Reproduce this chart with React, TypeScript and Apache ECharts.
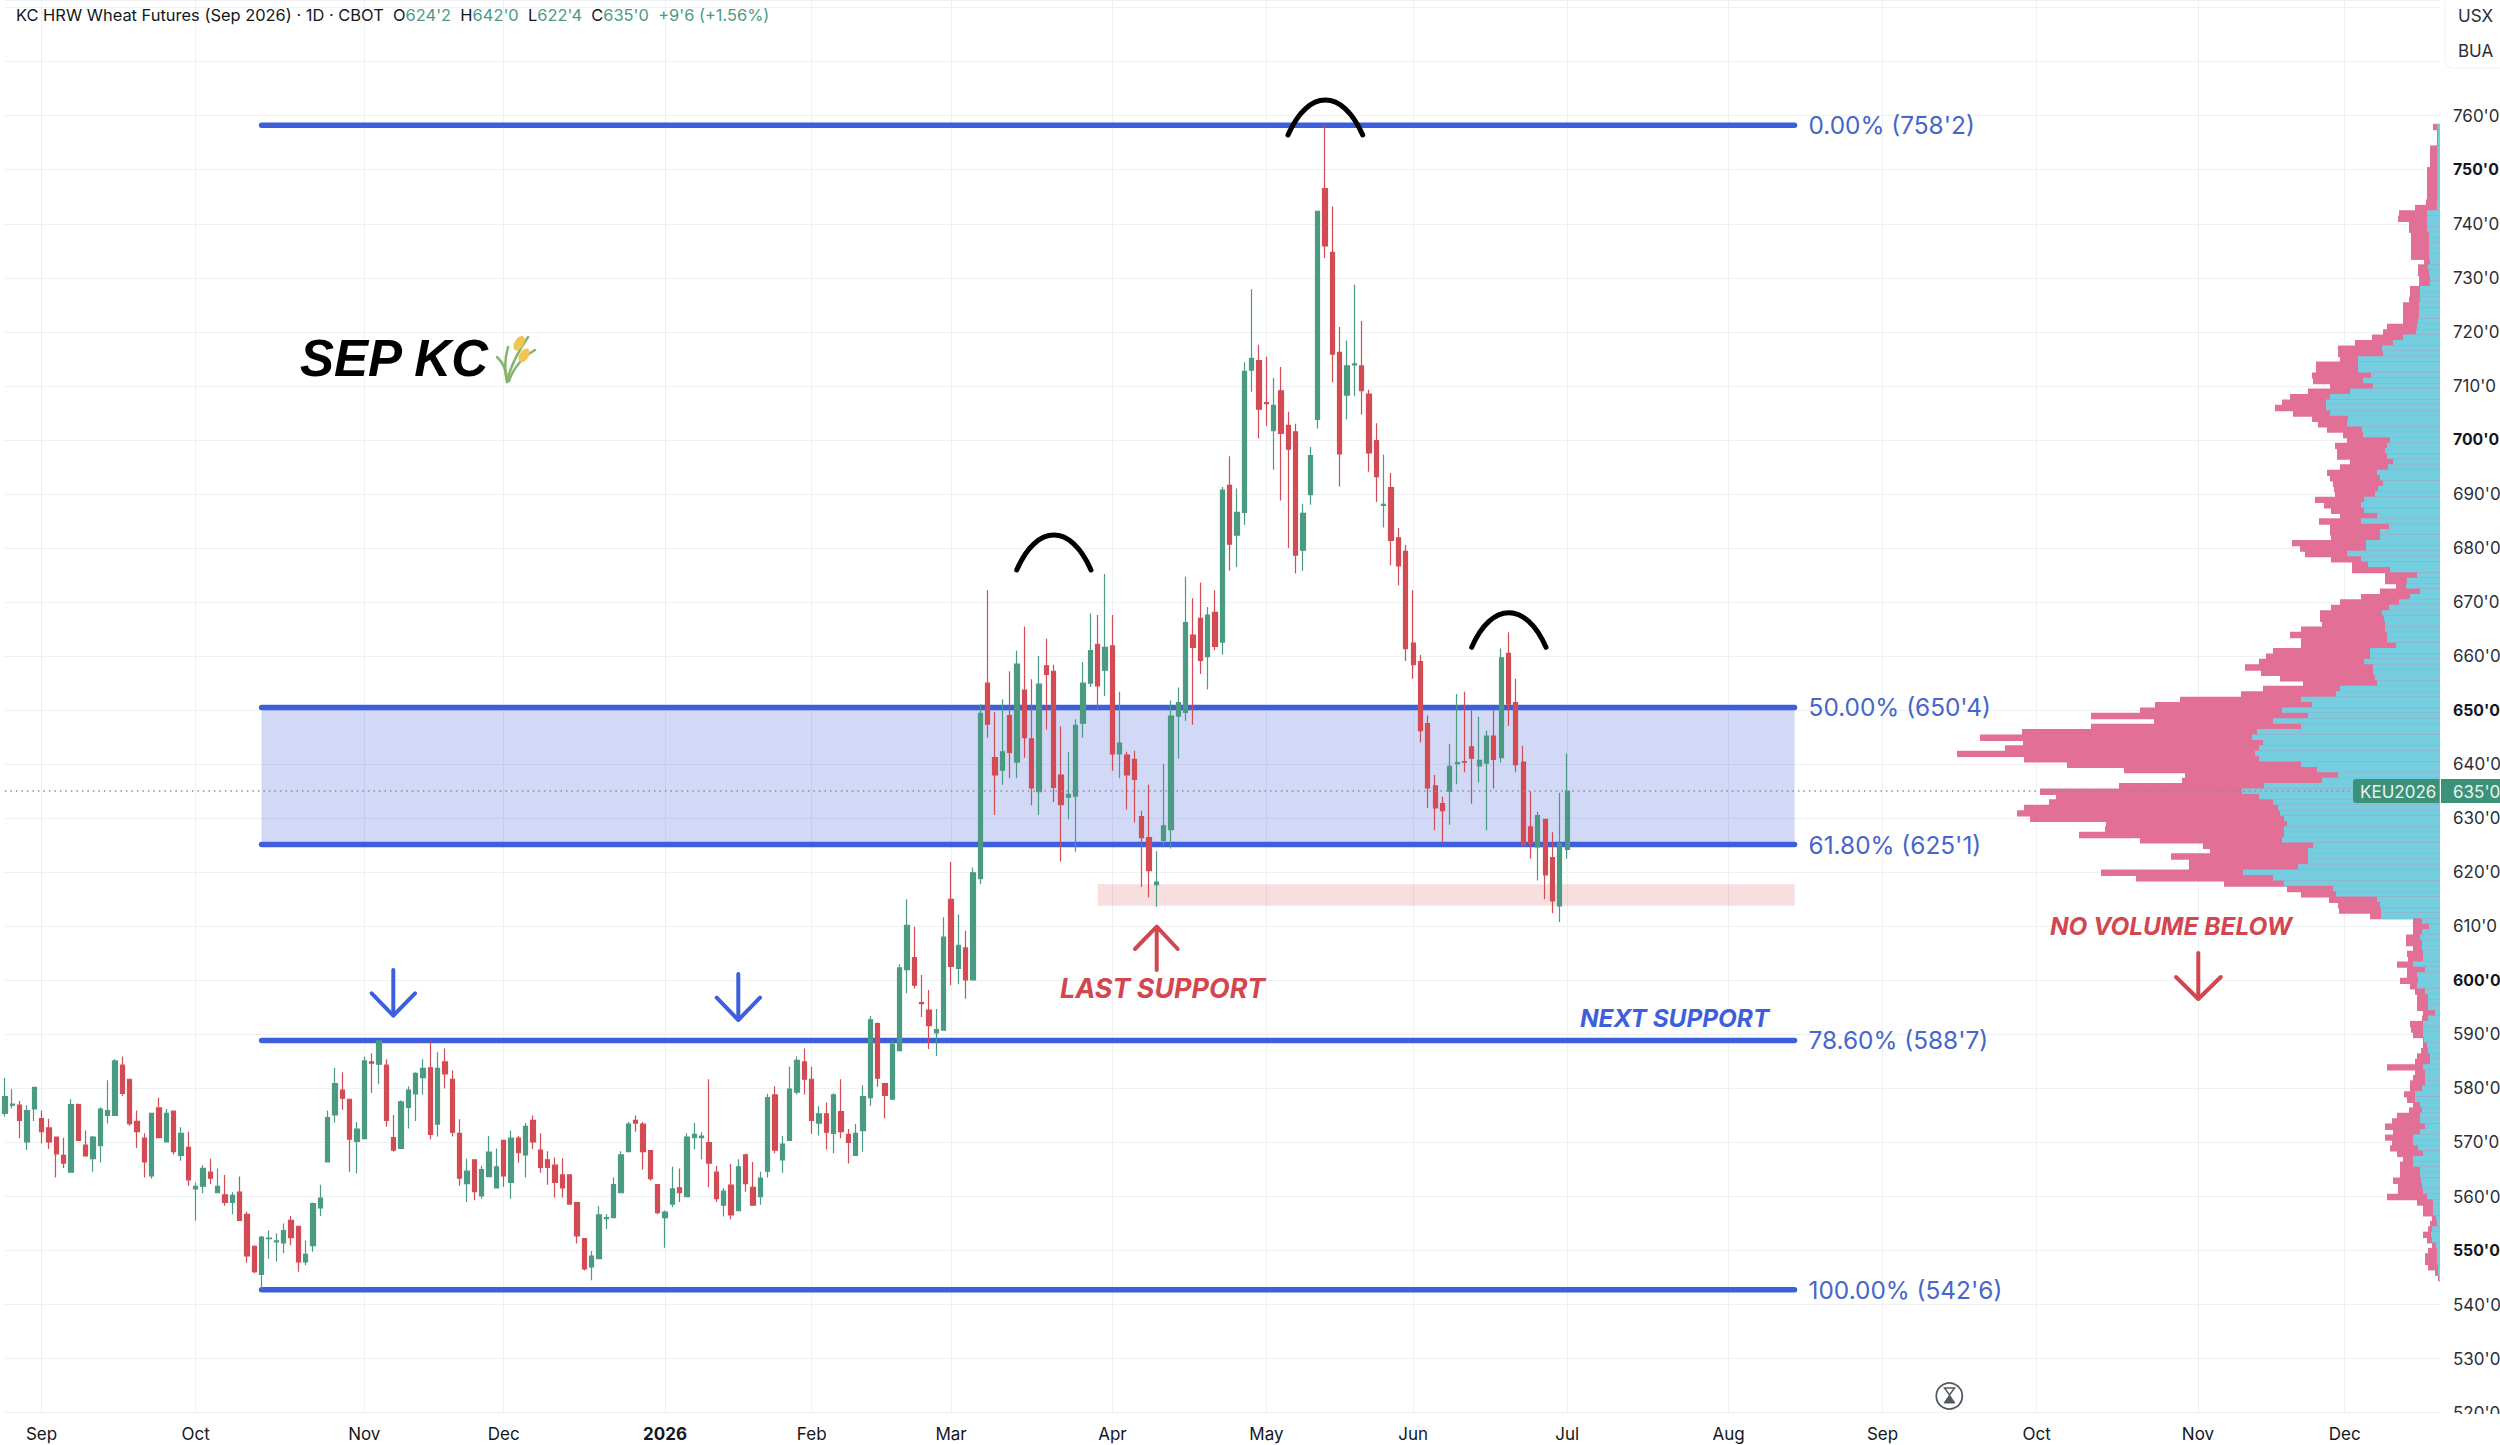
import React, { useEffect, useRef } from "react";
import * as echarts from "echarts";

const monthLabels = ["Sep", "Oct", "Nov", "Dec", "2026", "Feb", "Mar", "Apr", "May", "Jun", "Jul", "Aug", "Sep", "Oct", "Nov", "Dec"];
const monthBarCounts = [21, 23, 19, 22, 20, 19, 22, 21, 20, 21, 22, 21, 21, 22, 20];
const barsBeforeFirstMonth = 5;
const totalSlots = 333;

// [open, close, low, high]
const candles: number[][] = [
  [575.4,578.5,574.8,582],[576.9,577.1,576.3,579.9],[576.9,574.1,570.8,577.7],[570.1,575.9,568.6,576.9],[576.2,580.2,574,580.2],
  [574.4,572,569.8,575.9],[572.7,570.1,568.8,574.4],[571,567.9,563.5,571],[567.6,566.2,565.3,570.9],[564.5,577,564.5,578],
  [577,570.4,570.4,577.2],[569.5,567.5,567.5,572.2],[567,571,564.6,571.2],[569.4,576.2,566.3,576.5],[575,575.9,573.5,581.5],
  [575,585.1,575,585.4],[584.3,579.1,578.6,585.9],[581.7,573.5,573.1,581.7],[573.9,572,569,575.9],[570.8,566.4,563.5,571.7],
  [563.8,575.4,563.3,575.4],[576.4,570.9,570.9,578.3],[570.1,575.4,570,576.2],[575.8,568.3,567.8,575.8],[567.6,571.7,566.6,572.8],
  [569.1,563.1,562,572],[561.4,561.9,555.5,562.6],[561.9,565.2,560.6,565.8],[564.5,563.4,562.3,567],[560.7,561.9,560.6,565.2],
  [560.3,558.9,558.3,564],[558.9,560.2,556.7,560.8],[560.8,555.6,555.6,563.7],[556.7,549,547.8,557.2],[550.8,546.1,545.8,551],
  [545.6,552.5,543,552.7],[552.2,552.3,548.5,553.7],[551.6,551.8,548,553.2],[551.4,553.7,549.5,555],[555.6,552.4,551,556.4],
  [554.5,547.9,546.1,554.5],[547.9,549.3,547.3,551.9],[550.9,558.7,549.8,558.9],[557.9,559.7,556.4,562.2],[566.4,574.6,566.4,575.9],
  [575.1,580.9,573.7,583.8],[579.7,578.2,576,583],[578,570.6,564.6,578],[570.2,572.5,564.3,573.8],[570.7,585.1,570.7,585.9],
  [584.9,584.7,579.2,586.5],[584.5,588.8,580.8,588.8],[584.3,574.1,572.9,585.4],[570.9,568.6,568.3,575.1],[568.9,577.5,568.9,577.8],
  [576.5,579.7,572.6,580.4],[579,582.8,574,583],[582,583.7,578.9,585.4],[583.8,571.5,570.6,588.8],[573.4,583.7,571.1,586.7],
  [584.9,582.7,580,587.4],[581.7,571.9,571.1,583.3],[571.7,563.4,562,574.3],[562.4,564.7,559,567],[566.8,560.9,559.3,566.8],
  [560.1,565,559.6,565.7],[563.7,568.2,563.7,571.2],[561.6,565.5,561.6,568.9],
  [570.4,563.8,561.8,570.4],[562.6,570.8,559.6,572.2],[570.8,568.1,566.3,571.2],[567.7,573,563.5,573.6],[574.1,570.1,568.8,575],
  [568.6,565.4,564.4,571.7],[566.8,565.4,562.2,568.4],[565.8,562.6,559.8,567.2],[564,561.6,559.8,567.1],[564,558.6,558.6,564],
  [558.9,552.7,551.3,558.9],[552.2,546.6,546.3,552.2],[547,549,544.5,549.9],[548.5,556.6,548.5,558.2],[555.9,556.1,554,556.7],
  [556.1,562.2,556.1,563.5],[560.7,567.7,560.7,568.4],[568.3,573.4,568.3,573.8],[574.1,573.6,572,575],[573.4,568.3,565,573.8],
  [568.5,563.3,562.9,568.6],[562.2,557,556.7,562.2],[556.1,557.1,550.5,557.4],[558.6,561.4,558,565.5],[561.6,560.7,559,565.2],
  [560,571,560,571.7],[570.9,571.5,568.7,573.6],[570.9,571.2,566.9,571.9],[570,566.2,561.7,581.7],[564.5,559.6,559,565.7],
  [558.4,561,556.3,561.6],[562.1,556.6,555.8,566],[557.4,565.5,557.4,566.9],[567.7,562.4,560.9,567.9],[561.7,558.4,558.3,566.4],
  [560,563.4,558.5,564.6],[564.7,578.3,563.5,579],[578.8,568.6,568,580.4],[566.8,569.7,564.4,571.2],[570.4,579.9,570.4,584],
  [579.3,585.2,578.9,585.9],[584.9,581.7,578.9,587.4],[581.7,574.1,571.6,584],[573.6,575.3,571.3,576.7],[575.3,571.9,568.7,577.4],
  [571.7,578.8,568,579.1],[575.7,572,570.8,581.7],[571.5,570,566.1,572.5],[567.6,571.7,567.5,573.4],[572.2,578.5,568.3,580.6],
  [578.3,592.7,576.8,593.4],[592,581.9,580.3,592.2],[580.9,578.7,574.5,580.9],[578,588.2,578,589],[587,602.3,587,603],
  [602,610.2,597.6,615],[604.2,599.1,598.5,609.9],[595.9,595.7,593.2,601],[594.5,591.6,587.3,598.2],[590.3,590.9,586,594.7],
  [590.8,608,590.8,611.7],[615,602.6,599.1,621.9],[602.2,606.5,599.3,612.2],[606,600.1,596.6,609.2],[600.1,619.9,600.1,620.9],
  [618.8,649.4,617.8,651.1],[655,647.4,644.9,672.2],[641.2,638,630.6,649.6],[638.9,642.3,636.2,652],[649,642.2,637.4,657.2],
  [640.4,658.5,637.4,661],[653.7,644.9,641.2,665.5],[644.7,635.6,632.4,655.7],[634.9,654.8,630.6,660],[658.2,656.6,646.4,663.2],
  [657.2,635.7,633,658.4],[638,632.5,622,647],[633.9,634.4,629.8,642.2],[634.1,647.2,623.8,648.3],[647.6,655,644.9,658.9],
  [655,661,654.3,667.9],[662.2,654.5,650,667.6],[657.4,661.6,652.6,675.2],[661.9,641.9,638.8,667.6],[641.9,643.9,637.4,653.4],
  [641.7,638,631.6,642.3],[640.9,637.2,629.2,642.5],[630.3,626.4,617.3,631.4],[626.4,620.3,615.4,636.2],[617.7,618.2,613.6,623.9],
  [625.9,628.6,625,640.1],[627.9,648.9,624.4,651.8],[648.9,651.4,641,654.2],[649.6,666.2,648,674.7],[663.9,661.6,647.3,670.7],
  [667,659.2,656.7,673.6],[659.9,667.6,653.8,669.1],[668.1,661.8,661.1,672.2],[662.6,690.7,660.3,691.3],[691.6,680.7,675.8,697],
  [682.4,686.6,676.5,691],[686.6,712.7,684.3,714.4],[712.9,715.1,708.9,727.9],[714.7,705.7,700.3,717.6],[706.9,706.7,702.6,715.4],
  [701.7,706.4,694.5,711.5],[709.1,701.2,688.8,713.5],[702.7,698.3,680,705.2],[701.5,678.7,675.3,703],[679.6,686.4,675.8,688.2],
  [689.9,697.1,688,698.7],[703.8,742.3,702.1,742.3],[746.5,735.9,733.6,758.25],[734.7,715.9,710.7,743.2],[716.2,697.4,691.4,720.9],
  [708.3,713.7,703.8,718.4],[713.9,714.1,708.1,728.7],[713.7,709.1,704.7,722],[708.5,697.6,694.1,709.3],[699.9,693.2,688.5,703.1],
  [687.9,688.1,683.8,697.3],[691.2,681.4,676.8,693.9],[681.9,676.7,673.1,683.7],[679.4,661.4,659.1,680.6],
  [662.4,658.4,655.8,672.2],[659,646.2,644,660.2],[647.5,635.6,631.9,649],[636,631.9,627.8,638],[632.7,631.4,625.5,634],
  [635,639.6,628.8,643.8],[640.1,640.3,636.3,653],[640.5,640.4,638.5,653.4],[643.2,641.1,632.7,650],[639.7,640.7,636.6,648.8],
  [640.2,645.2,627.8,646.2],[645.2,640.9,635.5,650],[641.2,659.7,640.3,661.4],[660.5,651.1,647.1,664.4],[651.4,639.9,638.5,655.8],
  [640.4,625,624.8,643.4],[628.4,625.3,622.5,635],[624.7,630.5,618.5,631.2],[629.8,619.5,615,629.8],[622.7,614.7,612.4,627.4],
  [613.8,625.3,610.8,634.7],[624.25,635,622.5,642]
];

const fibLevels = [
  { price: 758.25, label: "0.00% (758'2)" },
  { price: 650.5, label: "50.00% (650'4)" },
  { price: 625.125, label: "61.80% (625'1)" },
  { price: 588.875, label: "78.60% (588'7)" },
  { price: 542.75, label: "100.00% (542'6)" },
];
const fibStartBar = 35;
const fibEndBar = 244;
const supportZone = { startBar: 149, endBar: 244, top: 617.8, bottom: 613.8 };
const lastPrice = 635;
const boldPrices = [550, 600, 650, 700, 750];
const highestAxisLabel = 760;

const profileTopPrice = 758;
// width of the whole profile per 1-unit price row, from 758 down to 545
const profileTotal = [
  7,3,3,3,10,10,10,10,13,13,13,13,13,13,14,25,41,42,31,31,29,29,29,29,29,16,22,22,21,21,
  30,30,31,37,37,37,37,53,57,68,85,102,102,100,124,124,128,127,110,132,150,158,165,147,128,122,113,97,93,105,
  103,103,90,100,113,110,107,106,105,125,116,109,100,121,110,110,109,148,140,135,109,88,88,55,55,44,60,79,100,109,
  120,120,118,139,150,139,139,167,174,181,195,179,160,137,177,199,260,285,300,349,286,349,418,460,417,435,483,416,373,316,
  255,258,321,400,384,391,416,423,410,334,335,361,300,237,230,269,251,251,339,304,216,153,139,111,102,101,70,27,27,27,
  34,34,27,33,32,43,33,33,40,30,25,23,23,23,17,18,30,29,27,17,17,19,23,25,53,25,27,30,30,36,
  33,27,31,43,48,55,47,55,48,50,43,37,40,40,40,47,42,42,53,23,17,17,8,10,12,17,13,8,12,15,
  15,12,5,2
];
// the blue (up volume) part of the same rows
const profileUp = [
  2.5,2,2,2,2.5,2.5,2.5,2.5,2.5,2.5,2.5,2.5,2.5,2.5,3,3,13,13,13,13,11,11,11,11,11,10,12,11,10,10,
  20,20,20,21,21,21,22,23,24,37,47,58,57,82,82,82,69,77,67,90,110,114,114,110,92,93,78,77,50,53,
  55,53,47,52,63,60,57,62,65,76,79,76,63,79,51,60,60,74,74,93,79,72,50,23,33,34,20,30,41,51,
  58,56,55,55,53,53,44,70,70,76,67,67,65,63,100,104,139,128,158,132,167,139,183,188,177,181,185,181,139,123,
  102,118,176,198,181,167,162,160,156,153,156,156,158,127,132,132,132,142,197,167,156,107,104,63,60,59,59,18,11,18,
  20,18,18,17,17,27,15,23,22,23,15,12,12,12,5,12,17,17,17,16,13,12,10,10,17,15,15,15,18,25,
  25,20,18,20,20,15,20,27,27,22,17,27,27,20,20,19,18,17,13,7,7,7,4,3,8,9,8,4,3,3,
  3,2,2,1
];

const BLUE = "#3D5FDB";
const RED = "#D2474F";
const GREEN = "#4B9A83";
const CANDLE_RED = "#D34B54";

const categories = Array.from({ length: totalSlots }, (_, i) => String(i));
const monthStartLabel = new Map<number, string>();
{
  let at = barsBeforeFirstMonth;
  monthLabels.forEach((m, i) => {
    monthStartLabel.set(at, m);
    at += monthBarCounts[i] ?? 0;
  });
}
const isMonthStart = (i: number) => monthStartLabel.has(i);

const fmtPrice = (v: number) => `${v}'0`;

function arrow(points: number[][], color: string, width = 4) {
  return {
    type: "polyline",
    z: 50,
    shape: { points },
    style: { stroke: color, lineWidth: width, fill: "none", lineCap: "round", lineJoin: "round" },
  };
}
function hump(x1: number, x2: number, yEnd: number, yTop: number) {
  const d = yEnd - yTop;
  const w = x2 - x1;
  return {
    type: "bezierCurve",
    z: 50,
    shape: {
      x1, y1: yEnd, x2, y2: yEnd,
      cpx1: x1 + w * 0.27, cpy1: yEnd - d * 1.33,
      cpx2: x2 - w * 0.27, cpy2: yEnd - d * 1.33,
    },
    style: { stroke: "#000", lineWidth: 5, fill: "none", lineCap: "round" },
  };
}
function note(text: string, x: number, y: number, fill: string, fontSize = 25, family = "Inter") {
  return {
    type: "text",
    z: 50,
    style: {
      text, x, y, fill, fontSize, fontFamily: family, fontWeight: "bold", fontStyle: "italic",
      textVerticalAlign: "middle",
    },
  };
}
function plain(text: string, x: number, y: number, fill: string, fontSize = 17) {
  return {
    type: "text",
    z: 61,
    style: { text, x, y, fill, fontSize, fontFamily: "Inter", textVerticalAlign: "middle" },
  };
}

export default function App() {
  const ref = useRef<HTMLDivElement>(null);
  useEffect(() => {
    document.body.style.margin = "0";
    const chart = echarts.init(ref.current!, undefined, { renderer: "svg" });
    const gridTop = 0;
    const gridHeight = 1412.7;
    const yMin = 520;
    const yMax = 781.41;
    const wheatGreen = "#86B46E";
    const wheatYellow = "#F0C552";

    chart.setOption({
      animation: false,
      backgroundColor: "#fff",
      title: {
        left: 11,
        top: 2,
        text:
          "{k|KC HRW Wheat Futures (Sep 2026) · 1D · CBOT  O}{g|624'2}{k|  H}{g|642'0}{k|  L}{g|622'4}{k|  C}{g|635'0}{g|  +9'6 (+1.56%)}",
        textStyle: {
          fontWeight: "normal",
          rich: {
            k: { fontFamily: "Inter", fontSize: 16.45, fontWeight: "normal", color: "#131722" },
            g: { fontFamily: "Inter", fontSize: 16.45, fontWeight: "normal", color: "#4B9A83" },
          },
        },
      },
      grid: [
        { left: 4.9, width: 2435.1, top: gridTop, height: gridHeight, outerBoundsMode: "none" },
        { left: 1940, width: 500, top: gridTop, height: gridHeight, outerBoundsMode: "none" },
      ],
      xAxis: [
        {
          type: "category",
          gridIndex: 0,
          data: categories.map((c, i) =>
            monthStartLabel.get(i) === "2026" ? { value: c, textStyle: { fontWeight: "bold" } } : c
          ),
          boundaryGap: false,
          axisLine: { lineStyle: { color: "#EEF0F4" } },
          axisTick: { show: false },
          axisLabel: {
            interval: (i: number) => isMonthStart(i),
            formatter: (_v: string, i: number) => monthStartLabel.get(i) ?? "",
            fontFamily: "Inter",
            fontSize: 17,
            color: "#131722",
            margin: 13,
          },
          splitLine: {
            show: true,
            interval: (i: number) => isMonthStart(i),
            lineStyle: { color: "#EEF0F4", width: 1 },
          },
        },
        { type: "value", gridIndex: 1, inverse: true, min: 0, max: 500, show: false },
      ],
      yAxis: [
        {
          type: "value",
          gridIndex: 0,
          position: "right",
          min: yMin,
          max: yMax,
          interval: 10,
          axisLine: { show: false },
          axisTick: { show: false },
          splitLine: { lineStyle: { color: "#EEF0F4", width: 1 } },
          axisLabel: {
            margin: 13,
            fontFamily: "Inter",
            fontSize: 17,
            color: "#2A2E39",
            showMaxLabel: false,
            formatter: (v: number) => {
              if (v % 10 !== 0 || v > highestAxisLabel) return "";
              return boldPrices.includes(v) ? `{b|${fmtPrice(v)}}` : fmtPrice(v);
            },
            rich: { b: { fontFamily: "Inter", fontSize: 15.8, fontWeight: "bold", color: "#131722" } },
          },
        },
        { type: "value", gridIndex: 1, min: yMin, max: yMax, show: false },
      ],
      series: [
        {
          type: "line",
          z: 1,
          data: [],
          xAxisIndex: 0,
          yAxisIndex: 0,
          markArea: {
            silent: true,
            data: [
              [
                { xAxis: categories[fibStartBar], yAxis: fibLevels[1].price, itemStyle: { color: "rgba(61,95,219,0.24)" } },
                { xAxis: categories[fibEndBar], yAxis: fibLevels[2].price },
              ],
              [
                { xAxis: categories[supportZone.startBar], yAxis: supportZone.top, itemStyle: { color: "rgba(213,76,85,0.18)" } },
                { xAxis: categories[supportZone.endBar], yAxis: supportZone.bottom },
              ],
            ],
          },
          markLine: {
            silent: true,
            symbol: "none",
            label: { show: false },
            lineStyle: { type: [1.5, 4], color: "#8A8F99", width: 1.5 },
            data: [{ yAxis: lastPrice }],
          },
        },
        ...fibLevels.map((f) => ({
          type: "line",
          z: 2,
          xAxisIndex: 0,
          yAxisIndex: 0,
          data: [
            [categories[fibStartBar], f.price],
            [categories[fibEndBar], f.price],
          ],
          symbol: "none",
          lineStyle: { color: BLUE, width: 5.5, cap: "round" },
          endLabel: {
            show: true,
            formatter: f.label,
            distance: 14,
            color: "#4666CC",
            fontFamily: "Inter",
            fontSize: 24.4,
          },
        })),
        {
          type: "candlestick",
          z: 3,
          xAxisIndex: 0,
          yAxisIndex: 0,
          clip: false,
          barWidth: 4.8,
          data: candles,
          itemStyle: {
            color: GREEN,
            color0: CANDLE_RED,
            borderColor: GREEN,
            borderColor0: CANDLE_RED,
            borderWidth: 1.2,
          },
        },
        {
          type: "custom",
          z: 4,
          xAxisIndex: 1,
          yAxisIndex: 1,
          encode: { x: [1, 2], y: 0 },
          data: profileTotal.map((t, i) => [profileTopPrice - i, profileUp[i], t]),
          renderItem: (_p: unknown, api: any) => {
            const price = api.value(0);
            const up = api.value(1);
            const total = api.value(2);
            const base = api.coord([0, price - 0.5]);
            const pink = api.coord([total, price + 0.5]);
            const cyan = api.coord([up, price + 0.5]);
            return {
              type: "group",
              children: [
                {
                  type: "rect",
                  shape: { x: pink[0], y: pink[1], width: base[0] - pink[0], height: base[1] - pink[1] + 1 },
                  style: { fill: "#E26F96" },
                },
                {
                  type: "rect",
                  shape: { x: cyan[0], y: cyan[1], width: base[0] - cyan[0], height: base[1] - cyan[1] + 1 },
                  style: { fill: "#75CEDF" },
                },
              ],
            };
          },
        },
      ],
      graphic: [
        // SEP KC title with a wheat sprig
        note("SEP KC", 300, 358, "#000", 51, "Liberation Sans"),
        { type: "bezierCurve", z: 50, shape: { x1: 507, y1: 382, x2: 528, y2: 337, cpx1: 511, cpy1: 362 }, style: { stroke: wheatGreen, lineWidth: 2.5, fill: "none", lineCap: "round" } },
        { type: "bezierCurve", z: 50, shape: { x1: 507, y1: 382, x2: 508, y2: 347, cpx1: 503, cpy1: 365 }, style: { stroke: wheatGreen, lineWidth: 2.5, fill: "none", lineCap: "round" } },
        { type: "bezierCurve", z: 50, shape: { x1: 507, y1: 380, x2: 497, y2: 357, cpx1: 506, cpy1: 365 }, style: { stroke: wheatGreen, lineWidth: 2.5, fill: "none", lineCap: "round" } },
        { type: "bezierCurve", z: 50, shape: { x1: 509, y1: 381, x2: 535, y2: 350, cpx1: 516, cpy1: 361 }, style: { stroke: wheatGreen, lineWidth: 2.5, fill: "none", lineCap: "round" } },
        { type: "ellipse", z: 51, originX: 519, originY: 343, rotation: -0.55, shape: { cx: 519, cy: 343, rx: 4.5, ry: 8 }, style: { fill: wheatYellow } },
        { type: "ellipse", z: 51, originX: 524, originY: 355, rotation: -0.55, shape: { cx: 524, cy: 355, rx: 4.5, ry: 7.5 }, style: { fill: wheatYellow } },

        hump(1288, 1362.7, 135, 100),
        hump(1016.7, 1091, 570, 535),
        hump(1471.7, 1546, 647.3, 612.7),

        arrow([[393.3, 970], [393.3, 1015]], BLUE),
        arrow([[371.7, 993.3], [393.3, 1015.7], [415, 993.3]], BLUE),
        arrow([[738.3, 974], [738.3, 1019]], BLUE),
        arrow([[716.7, 997.7], [738.3, 1020], [760, 997.7]], BLUE),
        arrow([[1156.7, 970], [1156.7, 928]], RED),
        arrow([[1135, 949], [1156.7, 926.7], [1177.7, 949]], RED),
        arrow([[2198.3, 953], [2198.3, 998]], RED),
        arrow([[2176, 977], [2198.3, 999], [2220.8, 977]], RED),

        note("LAST SUPPORT", 1060, 988, RED, 26.9),
        note("NEXT SUPPORT", 1580, 1018, BLUE, 24.4),
        note("NO VOLUME BELOW", 2050, 926, RED, 24.4),

        // symbol box
        { type: "rect", z: 60, shape: { x: 2445, y: -4, width: 70, height: 72, r: 8 }, style: { fill: "#fff", stroke: "#EEF0F4", lineWidth: 1 } },
        plain("USX", 2458, 16, "#2A2E39"),
        plain("BUA", 2458, 51, "#2A2E39"),

        // last price tags
        { type: "rect", z: 60, shape: { x: 2353, y: 779, width: 86.5, height: 24, r: [3, 0, 0, 3] }, style: { fill: "#3C9179" } },
        { type: "rect", z: 60, shape: { x: 2441, y: 779, width: 59, height: 24 }, style: { fill: "#3C9179" } },
        plain("KEU2026", 2360, 791.5, "#E8F3F0"),
        plain("635'0", 2453, 791.5, "#E8F3F0"),

        // clip of the lowest axis label
        { type: "rect", z: 60, shape: { x: 2441, y: 1414, width: 59, height: 31 }, style: { fill: "#fff" } },

        // session-break icon: ring and hourglass
        { type: "circle", z: 50, shape: { cx: 1949.3, cy: 1396, r: 13 }, style: { fill: "#fff", stroke: "#555A62", lineWidth: 1.8 } },
        { type: "polygon", z: 51, shape: { points: [[1944.5, 1388], [1954.5, 1388], [1949.5, 1395]] }, style: { fill: "#fff", stroke: "#555A62", lineWidth: 1.5 } },
        { type: "polygon", z: 51, shape: { points: [[1949.5, 1395], [1955, 1403], [1944, 1403]] }, style: { fill: "#555A62", stroke: "#555A62", lineWidth: 1 } },
      ],
    });
    return () => chart.dispose();
  }, []);
  return <div ref={ref} style={{ position: "fixed", left: 0, top: 0, width: 2500, height: 1445 }} />;
}
